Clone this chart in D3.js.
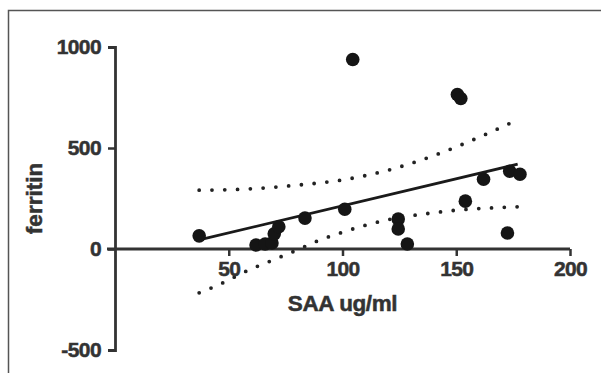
<!DOCTYPE html>
<html>
<head>
<meta charset="utf-8">
<script src="https://cdn.jsdelivr.net/npm/d3@7"></script>
<style>
  body { margin: 0; background: #fff; }
  text { font-family: "Liberation Sans", Arial, sans-serif; font-weight: bold; fill: #333; }
</style>
</head>
<body>
<svg id="chart"></svg>
<script>
// values
const saa = [37, 62, 66, 69, 70, 72, 83.5, 101, 104.5, 124.5, 124.5, 128.5, 150.5, 152, 154, 162, 172.5, 173.5, 178];
const ferritin = [65, 20, 25, 30, 75, 110, 153, 197, 938, 148, 99, 25, 765, 745, 237, 345, 79, 385, 370];
const fitX = [37, 177];
const fitY = [45, 420];
const upperX = [37, 60, 80, 100, 120, 140, 160, 177];
const upperY = [291, 298, 316, 342, 390, 462, 553, 640];
const lowerX = [37, 45, 60, 70, 80, 90, 100, 110, 120, 135, 150, 165, 177];
const lowerY = [-217, -180, -98, -52, -5, 44, 83, 117, 145, 172, 192, 203, 209];
const xTicks = [50, 100, 150, 200];
const yTicks = [-500, 0, 500, 1000];

const width = 601, height = 373;
const svg = d3.select('#chart').attr('width', width).attr('height', height);

// frame (only left and top edges show)
svg.append('path')
    .attr('d', `M8.5,${height} L8.5,10.5 L${width},10.5`)
    .attr('fill', 'none').attr('stroke', '#555').attr('stroke-width', 1.5);

const x = d3.scaleLinear().domain([0, 200]).range([115, 570]);
const y = d3.scaleLinear().domain([-500, 1000]).range([350, 47]);

const line = d3.line().x(d => x(d[0])).y(d => y(d[1])).curve(d3.curveMonotoneX);
const fmt = d => String(d); // plain hyphen, no thousands separator

// confidence bands, dotted
[[upperX, upperY], [lowerX, lowerY]].forEach(([xs, ys]) => {
    svg.append('path')
        .attr('d', line(d3.zip(xs, ys)))
        .attr('fill', 'none')
        .attr('stroke', '#222')
        .attr('stroke-width', 3.8)
        .attr('stroke-linecap', 'round')
        .attr('stroke-dasharray', '0 12.8');
});

// x axis at y = 0
const xAxis = svg.append('g')
    .attr('transform', `translate(0,${y(0)})`)
    .call(d3.axisBottom(x).tickValues(xTicks).tickFormat(fmt).tickSize(7).tickPadding(5));
xAxis.select('.domain').attr('stroke', '#333').attr('stroke-width', 2.8)
    .attr('d', `M${x(0) - 8},0H${x(200)}`);
xAxis.selectAll('.tick line').attr('stroke', '#333').attr('stroke-width', 2.5);

// y axis at x = 0
const yAxis = svg.append('g')
    .attr('transform', `translate(${x(0)},0)`)
    .call(d3.axisLeft(y).tickValues(yTicks).tickFormat(fmt).tickSize(7).tickPadding(7));
yAxis.select('.domain').attr('stroke', '#333').attr('stroke-width', 2.8);
yAxis.selectAll('.tick line').attr('stroke', '#333').attr('stroke-width', 2.5);

[xAxis, yAxis].forEach(g => g.selectAll('text')
    .attr('font-size', 21).attr('fill', '#333').attr('stroke', '#333').attr('stroke-width', 0.5)
    .attr('font-family', '"Liberation Sans", Arial, sans-serif').attr('font-weight', 'bold')
    .attr('letter-spacing', -0.6));

// regression line
svg.append('path')
    .attr('d', d3.line().x(d => x(d[0])).y(d => y(d[1]))(d3.zip(fitX, fitY)))
    .attr('fill', 'none').attr('stroke', '#1a1a1a').attr('stroke-width', 2.8);

// points
svg.selectAll('.dot')
    .data(d3.zip(saa, ferritin)).join('circle')
    .attr('class', 'dot')
    .attr('cx', d => x(d[0]))
    .attr('cy', d => y(d[1]))
    .attr('r', 6.8)
    .attr('fill', '#151515');

// axis titles
svg.append('text')
    .attr('x', (x(0) + x(200)) / 2).attr('y', 311)
    .attr('text-anchor', 'middle').attr('font-size', 22.5)
    .attr('stroke', '#333').attr('stroke-width', 0.5).attr('letter-spacing', -0.4)
    .text('SAA ug/ml');

svg.append('text')
    .attr('transform', `translate(42,${(y(1000) + y(-500)) / 2}) rotate(-90)`)
    .attr('text-anchor', 'middle').attr('font-size', 22.5)
    .attr('stroke', '#333').attr('stroke-width', 0.5)
    .text('ferritin');
</script>
</body>
</html>
